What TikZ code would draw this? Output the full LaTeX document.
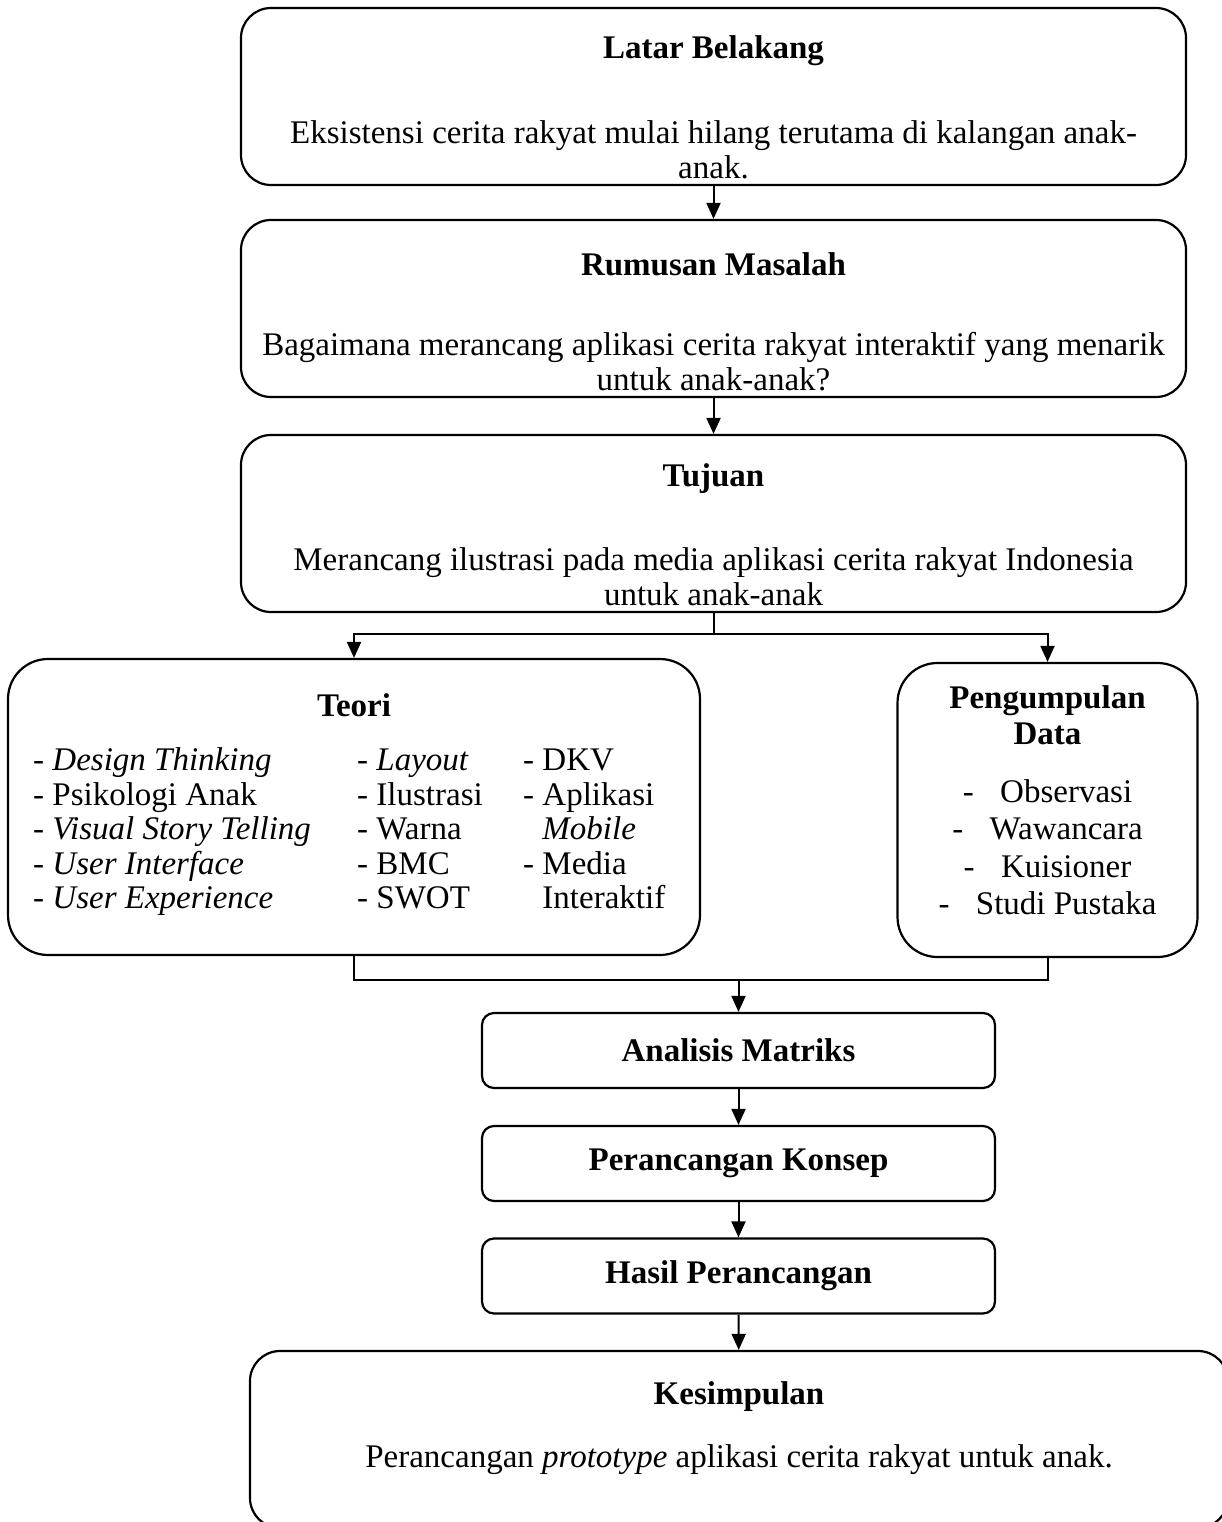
\documentclass[tikz,border=0pt]{standalone}
\usepackage{fontspec}
\setmainfont{Liberation Serif}
\usetikzlibrary{calc, arrows.meta}
\tikzstyle{box}      = [draw, line width=2.2pt, rounded corners=30pt, inner sep=0pt]
\tikzstyle{smallbox} = [box, rounded corners=12pt]
\tikzstyle{txt}      = [inner sep=0pt, font=\fontsize{33}{35}\selectfont]
\tikzstyle{head}     = [inner sep=0pt, font=\fontsize{33}{36}\selectfont\bfseries]
\tikzstyle{conn}     = [line width=2pt]
\tikzstyle{arrow}    = [line width=2pt,-{Triangle[width=14pt,length=16pt]}]

\begin{document}
\begin{tikzpicture}[x=1pt,y=-1pt]
  \useasboundingbox (0,0) rectangle (1221,1522);

  %the three wide boxes at the top
  \node[box, minimum width=945pt, minimum height=177pt] (latar) at (713.5,96.5) {};
  \node[head] (latarT) at (713.5,51) {Latar Belakang};
  \node[txt, align=center] (latarX) at (713.5,150)
    {Eksistensi cerita rakyat mulai hilang terutama di kalangan anak-\\anak.};

  \node[box, minimum width=945pt, minimum height=177pt] (rumusan) at (713.5,308.5) {};
  \node[head] (rumusanT) at (713.5,264) {Rumusan Masalah};
  \node[txt, align=center] (rumusanX) at (713.5,362)
    {Bagaimana merancang aplikasi cerita rakyat interaktif yang menarik\\untuk anak-anak?};

  \node[box, minimum width=945pt, minimum height=177pt] (tujuan) at (713.5,523.5) {};
  \node[head] (tujuanT) at (713.5,479) {Tujuan};
  \node[txt, align=center] (tujuanX) at (713.5,577)
    {Merancang ilustrasi pada media aplikasi cerita rakyat Indonesia\\untuk anak-anak};

  \draw[arrow] (latar) -- (rumusan);
  \draw[arrow] (rumusan) -- (tujuan);

  %theory and data collection side by side
  \node[box, rounded corners=40pt, minimum width=692pt, minimum height=296pt] (teori) at (354,807) {};
  \node[head] (teoriT) at (354,705) {Teori};
  \foreach \item [count=\i] in {- \emph{Design Thinking}, - Psikologi Anak,
                                - \emph{Visual Story Telling}, - \emph{User Interface},
                                - \emph{User Experience}}{
    \node[txt, anchor=base west] (teoriA\i) at (33,{736+34.5*\i}) {\item};
  }
  \foreach \item [count=\i] in {- \emph{Layout}, - Ilustrasi, - Warna, - BMC, - SWOT}{
    \node[txt, anchor=base west] (teoriB\i) at (357,{736+34.5*\i}) {\item};
  }
  \foreach \item [count=\i] in {- DKV, - Aplikasi, \phantom{- }\emph{Mobile},
                                - Media, \phantom{- }Interaktif}{
    \node[txt, anchor=base west] (teoriC\i) at (523,{736+34.5*\i}) {\item};
  }

  \node[box, rounded corners=40pt, minimum width=300pt, minimum height=294pt] (data) at (1047.5,810) {};
  \node[head, align=center] (dataT) at (1047.5,715) {Pengumpulan\\Data};
  \node[txt, align=center, font=\fontsize{33}{37.5}\selectfont] (dataX) at (1047.5,847)
    {-\hspace{0.8em}Observasi\\-\hspace{0.8em}Wawancara\\-\hspace{0.8em}Kuisioner\\-\hspace{0.8em}Studi Pustaka};

  \coordinate (split) at ($(tujuan.south)+(0,21)$);
  \draw[conn] (tujuan.south) -- (split);
  \draw[arrow] (split) -| (teori.north);
  \draw[arrow] (split) -| (data.north);

  %the chain at the bottom
  \foreach \name/\label/\y in {analisis/Analisis Matriks/1050.5,
                               konsep/Perancangan Konsep/1163.5,
                               hasil/Hasil Perancangan/1276}{
    \node[smallbox, minimum width=513pt, minimum height=75pt,
          font=\fontsize{33}{36}\selectfont\bfseries] (\name) at (738.5,\y) {\label};
  }

  \coordinate (merge) at (738.5,980);
  \draw[conn] (teori.south) |- (merge) -| (data.south);
  \draw[arrow] (merge) -- (analisis);
  \draw[arrow] (analisis) -- (konsep);
  \draw[arrow] (konsep) -- (hasil);

  \node[box, minimum width=978pt, minimum height=177pt] (kesimpulan) at (739,1439.5) {};
  \node[head] (kesimpulanT) at (739,1397) {Kesimpulan};
  \node[txt] (kesimpulanX) at (739,1460) {Perancangan \emph{prototype} aplikasi cerita rakyat untuk anak.};
  \draw[arrow] (hasil) -- (kesimpulan);
\end{tikzpicture}
\end{document}
